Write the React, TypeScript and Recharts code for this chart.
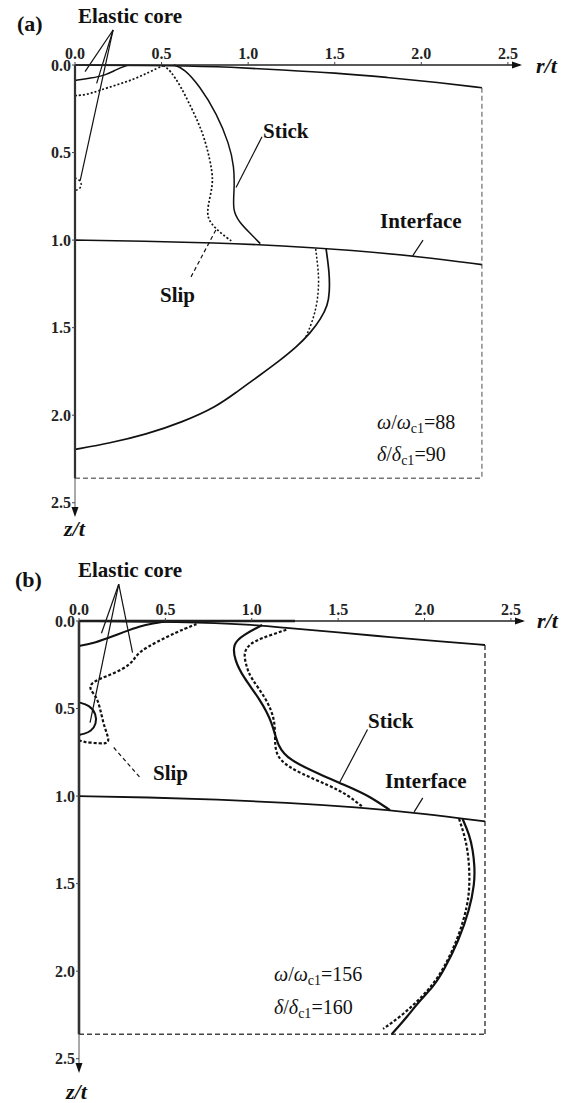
import React from 'react';
import { LineChart, Line, XAxis, YAxis, ReferenceLine, ReferenceDot } from 'recharts';

type Pt = { r: number; z: number };
const P = (r: number, z: number): Pt => ({ r, z });

const axisTicks = [0, 0.5, 1.0, 1.5, 2.0, 2.5];

// ---------- panel (a): omega/omega_c1 = 88 ----------
const surfaceA = [P(0, 0), P(0.6, 0.003), P(0.9, 0.012), P(1.2, 0.028), P(1.5, 0.045), P(1.8, 0.07), P(2.1, 0.1), P(2.35, 0.13)];
const interfaceA = [P(0, 1.0), P(0.4, 1.006), P(0.8, 1.015), P(1.2, 1.032), P(1.6, 1.058), P(2.0, 1.095), P(2.35, 1.14)];
const coreA = [P(0, 0.088), P(0.09, 0.076), P(0.18, 0.057), P(0.24, 0.025), P(0.3, 0.003)];
const coreDotA = [P(0, 0.645), P(0.025, 0.655), P(0.04, 0.68), P(0.03, 0.705), P(0.01, 0.715), P(0, 0.715)];
const slipTopA = [P(0, 0.175), P(0.07, 0.17), P(0.14, 0.145), P(0.24, 0.114), P(0.34, 0.082), P(0.43, 0.04), P(0.51, 0.003)];
const slipA = [
  P(0.51, 0.003), P(0.55, 0.03), P(0.61, 0.12), P(0.68, 0.26), P(0.74, 0.39), P(0.78, 0.54), P(0.8, 0.66),
  P(0.78, 0.75), P(0.76, 0.85), P(0.78, 0.9), P(0.84, 0.96), P(0.91, 1.01),
];
const stickA = [P(0.57, 0), P(0.63, 0.02), P(0.72, 0.12), P(0.82, 0.28), P(0.89, 0.45), P(0.92, 0.58), P(0.92, 0.72), P(0.91, 0.83), P(0.95, 0.9), P(1.01, 0.96), P(1.07, 1.02)];
const lowerStickA = [
  P(1.45, 1.05), P(1.47, 1.19), P(1.47, 1.3), P(1.46, 1.37), P(1.42, 1.45), P(1.36, 1.53), P(1.28, 1.61),
  P(1.18, 1.69), P(1.07, 1.77), P(0.93, 1.87), P(0.82, 1.95), P(0.62, 2.04), P(0.41, 2.11), P(0.2, 2.16), P(0, 2.195),
];
const lowerSlipA = [P(1.39, 1.05), P(1.4, 1.13), P(1.41, 1.23), P(1.4, 1.36), P(1.37, 1.47), P(1.33, 1.56)];

// ---------- panel (b): omega/omega_c1 = 156 ----------
const surfaceB = [P(0, 0), P(0.6, 0.005), P(1.0, 0.02), P(1.2, 0.04), P(1.5, 0.065), P(1.8, 0.092), P(2.1, 0.118), P(2.35, 0.137)];
const interfaceB = [P(0, 1.0), P(0.4, 1.007), P(0.8, 1.02), P(1.2, 1.037), P(1.6, 1.063), P(2.0, 1.1), P(2.35, 1.144)];
const coreB = [P(0, 0.143), P(0.08, 0.128), P(0.16, 0.1), P(0.26, 0.063), P(0.35, 0.03), P(0.43, 0.013), P(0.5, 0.002)];
const coreLoopB = [P(0, 0.465), P(0.06, 0.48), P(0.1, 0.53), P(0.1, 0.59), P(0.07, 0.63), P(0.03, 0.645), P(0, 0.65)];
const slipB = [
  P(0.68, 0.018), P(0.62, 0.04), P(0.51, 0.09), P(0.39, 0.15), P(0.33, 0.195), P(0.3, 0.25), P(0.2, 0.3),
  P(0.12, 0.33), P(0.07, 0.355), P(0.06, 0.39), P(0.1, 0.43), P(0.12, 0.49), P(0.14, 0.58), P(0.16, 0.64),
  P(0.18, 0.7), P(0.12, 0.7), P(0.02, 0.69), P(0, 0.68),
];
const stickB = [
  P(1.06, 0.023), P(0.95, 0.08), P(0.89, 0.13), P(0.9, 0.22), P(0.95, 0.32), P(1.05, 0.45), P(1.12, 0.58),
  P(1.15, 0.72), P(1.22, 0.795), P(1.38, 0.87), P(1.57, 0.95), P(1.68, 1.0), P(1.8, 1.08),
];
const stickDotB = [
  P(1.2, 0.05), P(1.05, 0.1), P(0.99, 0.13), P(0.95, 0.18), P(0.97, 0.26), P(0.99, 0.32), P(1.09, 0.45),
  P(1.14, 0.58), P(1.13, 0.72), P(1.16, 0.8), P(1.28, 0.87), P(1.45, 0.94), P(1.55, 0.99), P(1.64, 1.06),
];
const lowerStickB = [
  P(2.22, 1.13), P(2.26, 1.22), P(2.28, 1.31), P(2.29, 1.4), P(2.29, 1.5), P(2.26, 1.65), P(2.2, 1.82),
  P(2.11, 2.0), P(2.05, 2.09), P(1.97, 2.17), P(1.9, 2.26), P(1.81, 2.36),
];
const lowerSlipB = [
  P(2.2, 1.13), P(2.23, 1.22), P(2.25, 1.31), P(2.26, 1.42), P(2.26, 1.52), P(2.25, 1.62), P(2.2, 1.8),
  P(2.11, 1.99), P(2.03, 2.1), P(1.95, 2.18), P(1.86, 2.26), P(1.76, 2.33),
];

// model boundary (box) and axis of symmetry
const boxRight = 2.35;
const boxBottom = 2.36;

const FONT = '"Liberation Serif", "Times New Roman", serif';

const ArrowRight = (props: any) => {
  const { cx, cy } = props;
  return <path d={`M${cx + 2},${cy} L${cx - 8},${cy - 3.5} L${cx - 8},${cy + 3.5} Z`} fill="#111" />;
};
const ArrowDown = (props: any) => {
  const { cx, cy } = props;
  return <path d={`M${cx},${cy + 2} L${cx - 3.5},${cy - 8} L${cx + 3.5},${cy - 8} Z`} fill="#111" />;
};

type Curve = { data: Pt[]; dash?: string; width?: number; color?: string; straight?: boolean };
type Seg = { from: Pt; to: Pt; dash?: string };

interface PanelProps {
  top: number;
  left: number;
  rightMargin: number;
  curves: Curve[];
  leaders: Seg[];
}

const Panel = ({ top, left, rightMargin, curves, leaders }: PanelProps) => (
  <div style={{ position: 'absolute', left: 0, top }}>
    <LineChart width={569} height={525} margin={{ top: 35, right: rightMargin, left: left - 45, bottom: 10 }}>
      <XAxis
        dataKey="r"
        type="number"
        orientation="top"
        domain={[0, 2.57]}
        ticks={axisTicks}
        height={30}
        tickSize={3}
        tickMargin={3}
        tickFormatter={(v) => Number(v).toFixed(1)}
        tick={{ fontFamily: FONT, fontSize: 16, fontWeight: 'bold', fill: '#222' }}
        axisLine={{ stroke: '#222', strokeWidth: 1.5 }}
        tickLine={{ stroke: '#444' }}
      />
      <YAxis
        type="number"
        reversed
        domain={[0, 2.57]}
        ticks={axisTicks}
        width={45}
        tickSize={3}
        tickMargin={1}
        tickFormatter={(v) => Number(v).toFixed(1)}
        tick={{ fontFamily: FONT, fontSize: 16, fontWeight: 'bold', fill: '#222' }}
        axisLine={{ stroke: '#555', strokeWidth: 1 }}
        tickLine={{ stroke: '#444' }}
      />
      {curves.map((c, i) => (
        <Line
          key={i}
          data={c.data}
          dataKey="z"
          type={c.straight ? 'linear' : 'basis'}
          stroke={c.color ?? '#111'}
          strokeWidth={c.width ?? 1.5}
          strokeDasharray={c.dash}
          dot={false}
          activeDot={false}
          isAnimationActive={false}
        />
      ))}
      {leaders.map((s, i) => (
        <ReferenceLine
          key={`l${i}`}
          segment={[{ x: s.from.r, y: s.from.z }, { x: s.to.r, y: s.to.z }]}
          ifOverflow="visible"
          stroke="#111"
          strokeWidth={1.2}
          strokeDasharray={s.dash}
        />
      ))}
      <ReferenceDot x={2.57} y={0} shape={ArrowRight} ifOverflow="visible" />
      <ReferenceDot x={0} y={2.57} shape={ArrowDown} ifOverflow="visible" />
    </LineChart>
  </div>
);

const boxA: Curve[] = [
  { data: [P(boxRight, 0.13), P(boxRight, boxBottom)], dash: '5 3', width: 1.3, color: '#777', straight: true },
  { data: [P(0, boxBottom), P(boxRight, boxBottom)], dash: '5 3', width: 1.3, color: '#777', straight: true },
  { data: [P(0, 0), P(0, boxBottom)], width: 2.2, straight: true },
];
const boxB: Curve[] = [
  { data: [P(boxRight, 0.137), P(boxRight, boxBottom)], dash: '5 3', width: 1.5, color: '#444', straight: true },
  { data: [P(0, boxBottom), P(boxRight, boxBottom)], dash: '5 3', width: 1.5, color: '#444', straight: true },
  { data: [P(0, 0), P(0, boxBottom)], width: 2.5, straight: true },
  { data: [P(0, 0), P(1.25, 0)], width: 2.5, straight: true },
];

const curvesA: Curve[] = [
  ...boxA,
  { data: surfaceA, width: 1.6 },
  { data: interfaceA, width: 1.6 },
  { data: coreA, width: 1.5 },
  { data: coreDotA, dash: '2 2', width: 1.5 },
  { data: slipTopA, dash: '2 2', width: 1.7 },
  { data: slipA, dash: '2 2', width: 1.7 },
  { data: stickA, width: 1.5 },
  { data: lowerSlipA, dash: '2 2', width: 1.5 },
  { data: lowerStickA, width: 1.7 },
];
const curvesB: Curve[] = [
  ...boxB,
  { data: surfaceB, width: 1.8 },
  { data: interfaceB, width: 1.8 },
  { data: coreB, width: 2 },
  { data: coreLoopB, width: 2 },
  { data: slipB, dash: '3 2', width: 2.2 },
  { data: stickDotB, dash: '3 2', width: 2.2 },
  { data: stickB, width: 2.2 },
  { data: lowerSlipB, dash: '3 2', width: 2.2 },
  { data: lowerStickB, width: 2.2 },
];

const leadersA: Seg[] = [
  { from: P(0.22, -0.2), to: P(0.058, 0.038) },
  { from: P(0.22, -0.2), to: P(0.125, 0.105) },
  { from: P(0.22, -0.2), to: P(0.03, 0.66) },
  { from: P(1.08, 0.41), to: P(0.93, 0.7) },
  { from: P(0.67, 1.21), to: P(0.82, 0.93), dash: '4 3' },
  { from: P(2.01, 1.0), to: P(1.95, 1.09) },
];
const leadersB: Seg[] = [
  { from: P(0.23, -0.21), to: P(0.13, 0.07) },
  { from: P(0.23, -0.21), to: P(0.31, 0.18) },
  { from: P(0.23, -0.21), to: P(0.064, 0.58) },
  { from: P(1.67, 0.62), to: P(1.51, 0.92) },
  { from: P(0.35, 0.89), to: P(0.19, 0.71), dash: '4 3' },
  { from: P(1.99, 1.01), to: P(1.94, 1.09) },
];

const Label = ({ x, y, size = 21, bold = true, italic = false, children }: any) => (
  <div
    style={{
      position: 'absolute',
      left: x,
      top: y - size * 0.55,
      fontFamily: FONT,
      fontSize: size,
      fontWeight: bold ? 'bold' : 'normal',
      fontStyle: italic ? 'italic' : 'normal',
      lineHeight: 1,
      whiteSpace: 'nowrap',
      color: '#111',
    }}
  >
    {children}
  </div>
);

const Ratio = ({ sym, value }: { sym: string; value: string }) => (
  <span>
    <i>{sym}</i>/<i>{sym}</i>
    <span style={{ fontSize: '0.7em', verticalAlign: '-0.25em' }}>c1</span>={value}
  </span>
);

export default function App() {
  return (
    <div style={{ position: 'absolute', left: 0, top: 0, width: 569, height: 1103, background: '#fff' }}>
      <Panel top={0} left={75} rightMargin={49} curves={curvesA} leaders={leadersA} />
      <Panel top={556} left={79} rightMargin={46} curves={curvesB} leaders={leadersB} />

      <Label x={17} y={25} size={22}>(a)</Label>
      <Label x={78} y={18}>Elastic core</Label>
      <Label x={263} y={133}>Stick</Label>
      <Label x={160} y={297}>Slip</Label>
      <Label x={380} y={223}>Interface</Label>
      <Label x={377} y={423} size={20} bold={false}><Ratio sym="ω" value="88" /></Label>
      <Label x={377} y={455} size={20} bold={false}><Ratio sym="δ" value="90" /></Label>
      <Label x={536} y={67} size={22} italic>r/t</Label>
      <Label x={64} y={530} size={22} italic>z/t</Label>

      <Label x={15} y={581} size={22}>(b)</Label>
      <Label x={78} y={572}>Elastic core</Label>
      <Label x={368} y={723}>Stick</Label>
      <Label x={153} y={775}>Slip</Label>
      <Label x={385} y={783}>Interface</Label>
      <Label x={274} y={975} size={20} bold={false}><Ratio sym="ω" value="156" /></Label>
      <Label x={274} y={1008} size={20} bold={false}><Ratio sym="δ" value="160" /></Label>
      <Label x={537} y={622} size={22} italic>r/t</Label>
      <Label x={66} y={1093} size={22} italic>z/t</Label>
    </div>
  );
}
